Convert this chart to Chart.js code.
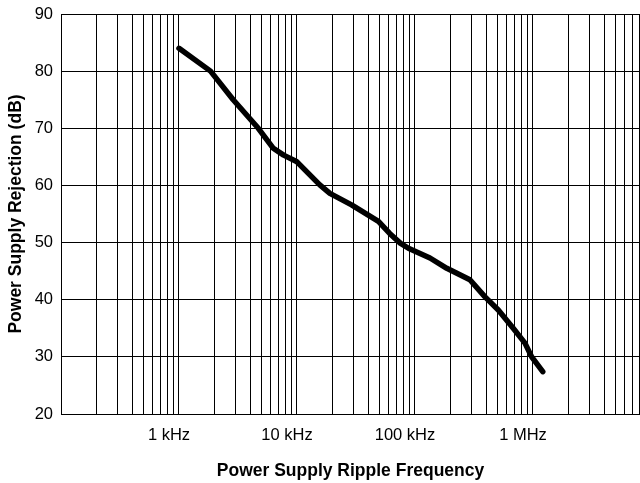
<!DOCTYPE html>
<html>
<head>
<meta charset="utf-8">
<script src="https://cdn.jsdelivr.net/npm/chart.js@4.4.1/dist/chart.umd.min.js"></script>
<style>
  html, body { margin: 0; padding: 0; background: #fff; }
  #wrap { width: 640px; height: 483px; }
</style>
</head>
<body>
<div id="wrap"><canvas id="psrChart" width="640" height="483"></canvas></div>
<script>
// ripple frequency (Hz) and rejection (dB)
const freqHz = [1000, 1850, 2880, 4700, 6300, 7700, 9900, 15600, 19000, 29000, 49000, 61000, 75000, 88000, 134000, 186000, 292000, 392000, 508000, 680000, 855000, 975000, 1210000];
const psrDb = [84, 80, 75, 70, 66.5, 65.3, 64.2, 60.1, 58.6, 56.6, 53.7, 51.6, 49.9, 49.0, 47.3, 45.5, 43.5, 40.5, 38.2, 35.0, 32.4, 30.0, 27.4];

const xLabelValues = [1e3, 1e4, 1e5, 1e6];
const xLabelText = ['1 kHz', '10 kHz', '100 kHz', '1 MHz'];
const xDecades = [1e2, 1e3, 1e4, 1e5, 1e6];
const xMin = 100;
const xMax = 8.07e6;   // picture is cut off on the right
const yMin = 20, yMax = 90, yStep = 10;

const FONT = '"Liberation Sans", Arial, sans-serif';

// grid lines at 1..9 of each decade
const gridValues = [];
xDecades.forEach(d => {
  for (let m = 1; m <= 9; m++) {
    if (d * m <= xMax) gridValues.push(d * m);
  }
});

const points = freqHz.map((f, i) => ({ x: f, y: psrDb[i] }));

// no extra room for edge labels, the plot box is pinned by layout padding
function noEdgePadding(scale) {
  scale.paddingLeft = 0;
  scale.paddingRight = 0;
  scale.paddingTop = 0;
  scale.paddingBottom = 0;
}

const ctx = document.getElementById('psrChart').getContext('2d');
new Chart(ctx, {
  type: 'line',
  data: {
    datasets: [{
      data: points,
      borderColor: '#000',
      borderWidth: 5.5,
      borderCapStyle: 'round',
      borderJoinStyle: 'round',
      pointRadius: 0,
      tension: 0,
      fill: false
    }]
  },
  options: {
    responsive: false,
    animation: false,
    events: [],
    layout: { padding: { top: 14, right: 0, left: 0, bottom: 0 } },
    plugins: {
      legend: { display: false },
      tooltip: { enabled: false }
    },
    scales: {
      x: {
        type: 'logarithmic',
        min: xMin,
        max: xMax,
        afterBuildTicks: (scale) => {
          scale.ticks = gridValues.map(v => ({ value: v }));
        },
        afterFit: (scale) => { scale.height = 69; noEdgePadding(scale); },
        ticks: {
          autoSkip: false,
          maxRotation: 0,
          padding: 12,
          labelOffset: -10,
          color: '#000',
          font: { family: FONT, size: 16.5 },
          callback: (value) => {
            const i = xLabelValues.indexOf(value);
            return i >= 0 ? xLabelText[i] : '';
          }
        },
        grid: { color: '#000', lineWidth: 1, drawTicks: false },
        border: { color: '#000', width: 1 },
        title: {
          display: true,
          text: 'Power Supply Ripple Frequency',
          color: '#000',
          font: { family: FONT, size: 17.5, weight: 'bold' },
          padding: { top: 0, bottom: 1.5 }
        }
      },
      y: {
        min: yMin,
        max: yMax,
        afterFit: (scale) => { scale.width = 61; noEdgePadding(scale); },
        ticks: {
          stepSize: yStep,
          padding: 8,
          color: '#000',
          font: { family: FONT, size: 16.5 }
        },
        grid: { color: '#000', lineWidth: 1, drawTicks: false },
        border: { color: '#000', width: 1 },
        title: {
          display: true,
          text: 'Power Supply Rejection (dB)',
          color: '#000',
          font: { family: FONT, size: 17.5, weight: 'bold' },
          padding: { top: 5.5, bottom: 0 }
        }
      }
    }
  }
});
</script>
</body>
</html>
